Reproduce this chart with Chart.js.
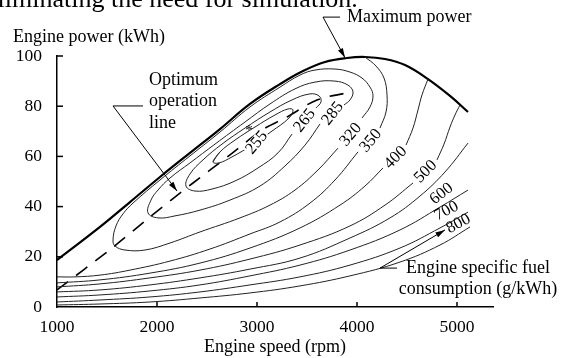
<!DOCTYPE html>
<html>
<head>
<meta charset="utf-8">
<script src="https://cdn.jsdelivr.net/npm/chart.js@4/dist/chart.umd.min.js"></script>
<style>
  html, body { margin: 0; padding: 0; background: #fff; }
  #wrap { width: 565px; height: 358px; position: relative; }
</style>
</head>
<body>
<div id="wrap"><canvas id="engineMap"></canvas></div>
<script>
/* ==========================================
   ENGINE MAP
   Potencia vs régimen con curvas de consumo específico
   ========================================== */

const speedTicks = [1000, 2000, 3000, 4000, 5000];
const powerTicks = [0, 20, 40, 60, 80, 100];

// puntos [rpm, kW]; null = hueco donde va la etiqueta
const maxPower = [
    [1000, 18.7], [1430, 31.9], [1730, 41.8], [2030, 51.8], [2330, 61.4],
    [2630, 70.9], [2930, 80.9], [3230, 88.8], [3460, 94.0], [3680, 97.6],
    [3900, 99.2], [4080, 99.6], [4280, 98.8], [4480, 96.4], [4710, 90.8],
    [4930, 84.1], [5110, 77.7]
];

const optimumLine = [
    [1000, 6.8], [1550, 23.5], [1930, 35.9], [2360, 49.4], [2730, 60.6],
    [3050, 70.5], [3300, 75.7], [3600, 82.5], [3950, 85.7]
];

const sfc255 = [
    [2560, 57.8], [2630, 61.8], [2780, 66.5], [2980, 71.7], [3180, 76.5],
    [3310, 78.9], [3360, 78.5], [3320, 75.3], [3150, 70.1], [2950, 64.5],
    [2750, 59.8], [2620, 57.4], [2560, 57.8], [2630, 61.8]
];

const sfc265 = [
    [3590, 79.3], [3640, 81.7], [3620, 84.1], [3530, 84.9], [3350, 82.5],
    [3130, 77.7], [2880, 71.3], [2650, 64.9], [2460, 58.6], [2330, 53.0],
    [2290, 48.2], [2380, 46.2], [2550, 47.0], [2780, 50.2], [3010, 55.4],
    [3210, 61.4], [3350, 68.9]
];

const sfc285 = [
    [3870, 80.5], [3930, 82.5], [3960, 85.7], [3910, 88.4], [3780, 90.0],
    [3580, 89.6], [3380, 86.9], [3130, 80.9], [2880, 73.7], [2580, 64.9],
    [2330, 57.4], [2130, 51.4], [2010, 46.6], [1940, 42.6], [1910, 37.5],
    [2010, 35.5], [2180, 36.3], [2430, 38.6], [2730, 42.6], [3030, 48.2],
    [3280, 56.2], [3480, 64.5], [3630, 72.9]
];

const sfc320 = [
    [4050, 75.3], [4130, 79.7], [4160, 84.1], [4130, 87.6], [4050, 91.2],
    [3930, 93.6], [3780, 94.8], [3580, 94.4], [3430, 92.4], [3230, 87.6],
    [2930, 79.7], [2630, 69.7], [2330, 60.2], [2030, 50.6], [1760, 41.4],
    [1660, 37.1], [1590, 32.3], [1560, 26.7], [1580, 24.3], [1680, 22.7],
    [1880, 22.7], [2130, 25.5], [2430, 29.9], [2830, 35.5], [3130, 40.6],
    [3380, 46.6], [3610, 54.6], [3810, 63.3]
];

const sfc350 = [
    [1000, 12.0], [1180, 12.0], [1430, 12.7], [1730, 14.7], [2130, 18.3],
    [2530, 23.1], [2930, 29.1], [3230, 33.9], [3530, 41.4], [3780, 50.6],
    [4010, 61.8], null, [4230, 71.3], [4290, 77.7], [4300, 84.5],
    [4270, 91.2], [4190, 96.0], [4080, 99.6]
];

const sfc400 = [
    [1000, 9.6], [1430, 10.8], [1930, 13.5], [2430, 17.5], [2930, 23.5],
    [3430, 31.5], [3830, 40.6], [4080, 48.2], [4260, 55.4], null,
    [4490, 64.5], [4560, 71.3], [4610, 78.5], [4650, 84.5], [4710, 90.8]
];

const sfc500 = [
    [1000, 8.0], [1430, 9.2], [1930, 11.6], [2430, 14.7], [2930, 19.1],
    [3430, 24.7], [3930, 32.3], [4280, 40.6], [4560, 49.4], null,
    [4800, 58.6], [4870, 64.9], [4930, 71.7], [4980, 76.5], [5030, 80.5]
];

const sfcUnlabelled = [
    [1000, 6.0], [1430, 6.8], [1930, 8.8], [2430, 11.6], [2930, 15.1],
    [3430, 19.5], [3930, 27.5], [4330, 35.5], [4630, 44.2], [4880, 53.8],
    [5110, 65.3]
];

const sfc600 = [
    [1000, 4.0], [1430, 4.8], [1930, 6.4], [2430, 8.8], [2930, 12.4],
    [3430, 16.7], [3930, 22.7], [4430, 30.7], [4830, 39.8], [5110, 46.6]
];

const sfc700 = [
    [1000, 2.0], [1430, 2.8], [1930, 4.0], [2430, 6.0], [2930, 8.8],
    [3430, 12.0], [3930, 16.7], [4430, 23.5], [4830, 31.5], [5110, 37.8]
];

const sfc800 = [
    [1000, 0.8], [1430, 1.2], [1930, 2.0], [2430, 3.6], [2930, 5.6],
    [3430, 8.4], [3930, 12.4], [4430, 17.9], [4830, 24.7], [5130, 31.9]
];

const contourLevels = ["255", "265", "285", "320", "350", "400", "500", "600", "700", "800"];

// donde se escribe cada nivel (rpm, kW) y su giro
const labelSpots = {
    "255": { at: [2990, 65.7], rot: -50, clear: true },
    "265": { at: [3470, 74.5], rot: -52 },
    "285": { at: [3750, 77.3], rot: -52 },
    "320": { at: [3930, 68.9], rot: -50 },
    "350": { at: [4130, 66.5], rot: -50 },
    "400": { at: [4380, 59.8], rot: -45 },
    "500": { at: [4680, 54.2], rot: -45 },
    "600": { at: [4840, 45.4], rot: -38 },
    "700": { at: [4890, 38.6], rot: -28 },
    "800": { at: [5010, 33.5], rot: -28 }
};

const notes = [
    { lines: ["Maximum power"], at: [3900, 115.5], align: "left",
      leader: [[3830, 115.5], [3660, 115.5], [3880, 99.3]] },
    { lines: ["Optimum", "operation", "line"], at: [1920, 90.4], align: "left",
      leader: [[1860, 80.1], [1560, 80.1], [2200, 46.2]] },
    { lines: ["Engine specific fuel", "consumption (g/kWh)"], at: [5210, 15.5], align: "center",
      leader: [[4400, 15.5], [4230, 15.5], [4880, 30.7]] }
];

const SERIF = "'Liberation Serif', 'Times New Roman', serif";

function toXY(points) {
    return points.map((p, i) =>
        p ? { x: p[0], y: p[1] } : { x: points[i - 1][0], y: null }
    );
}

function contour(points) {
    return {
        data: toXY(points),
        showLine: true,
        borderColor: "#222",
        borderWidth: 1,
        pointRadius: 0,
        tension: 0.4,
        spanGaps: false,
        clip: false
    };
}

function drawArrow(ctx, pts) {
    ctx.beginPath();
    ctx.moveTo(pts[0][0], pts[0][1]);
    pts.slice(1).forEach(p => ctx.lineTo(p[0], p[1]));
    ctx.stroke();

    const [x1, y1] = pts[pts.length - 2];
    const [x2, y2] = pts[pts.length - 1];
    const a = Math.atan2(y2 - y1, x2 - x1);
    ctx.beginPath();
    ctx.moveTo(x2, y2);
    ctx.lineTo(x2 - 10 * Math.cos(a - 0.28), y2 - 10 * Math.sin(a - 0.28));
    ctx.lineTo(x2 - 10 * Math.cos(a + 0.28), y2 - 10 * Math.sin(a + 0.28));
    ctx.closePath();
    ctx.fill();
}

const mapAnnotations = {
    id: "mapAnnotations",
    afterDatasetsDraw(chart) {
        const { ctx, chartArea, scales: { x, y } } = chart;
        const px = v => x.getPixelForValue(v);
        const py = v => y.getPixelForValue(v);

        ctx.save();

        // marcas de los ejes hacia dentro
        ctx.strokeStyle = "#000";
        ctx.lineWidth = 1.5;
        speedTicks.filter(v => v > x.min).forEach(v => {
            ctx.beginPath();
            ctx.moveTo(px(v), chartArea.bottom);
            ctx.lineTo(px(v), chartArea.bottom - 5);
            ctx.stroke();
        });
        powerTicks.filter(v => v > y.min).forEach(v => {
            ctx.beginPath();
            ctx.moveTo(chartArea.left, py(v));
            ctx.lineTo(chartArea.left + 6, py(v));
            ctx.stroke();
        });

        // niveles de consumo
        ctx.font = "16.5px " + SERIF;
        ctx.textAlign = "center";
        ctx.textBaseline = "middle";
        contourLevels.forEach(level => {
            const s = labelSpots[level];
            ctx.save();
            ctx.translate(px(s.at[0]), py(s.at[1]));
            ctx.rotate(s.rot * Math.PI / 180);
            if (s.clear) {
                const w = ctx.measureText(level).width;
                ctx.fillStyle = "#fff";
                ctx.fillRect(-w / 2 - 1, -6, w + 2, 12);
            }
            ctx.fillStyle = "#000";
            ctx.fillText(level, 0, 1);
            ctx.restore();
        });
        ctx.font = "15px " + SERIF;
        ctx.fillStyle = "#000";
        ctx.fillText("*", px(2920), py(70.0));

        // notas con flecha
        ctx.font = "18px " + SERIF;
        ctx.lineWidth = 1;
        notes.forEach(n => {
            ctx.textAlign = n.align;
            n.lines.forEach((t, i) => {
                ctx.fillText(t, px(n.at[0]), py(n.at[1]) + i * 21.5);
            });
            drawArrow(ctx, n.leader.map(p => [px(p[0]), py(p[1])]));
        });

        // título del eje y, horizontal arriba
        ctx.textAlign = "left";
        ctx.fillText("Engine power (kWh)", chartArea.left - 44, chartArea.top - 19);

        // texto del libro cortado arriba
        ctx.font = "26px " + SERIF;
        ctx.textBaseline = "alphabetic";
        ctx.fillText("eliminating the need for simulation.", chartArea.left - 71, chartArea.top - 49);

        ctx.restore();
    }
};

new Chart(document.getElementById("engineMap"), {
    type: "scatter",
    data: {
        datasets: [
            contour(sfc255),
            contour(sfc265),
            contour(sfc285),
            contour(sfc320),
            contour(sfc350),
            contour(sfc400),
            contour(sfc500),
            contour(sfcUnlabelled),
            contour(sfc600),
            contour(sfc700),
            contour(sfc800),
            {
                data: toXY(optimumLine),
                showLine: true,
                borderColor: "#000",
                borderWidth: 1.6,
                borderDash: [14, 10],
                pointRadius: 0,
                tension: 0.3,
                clip: false
            },
            {
                data: toXY(maxPower),
                showLine: true,
                borderColor: "#000",
                borderWidth: 2.2,
                pointRadius: 0,
                tension: 0.4,
                clip: false
            }
        ]
    },
    options: {
        responsive: true,
        maintainAspectRatio: false,
        animation: false,
        layout: {
            padding: { top: 56, right: 72, bottom: 0, left: 0 }
        },
        plugins: {
            legend: { display: false },
            tooltip: { enabled: false }
        },
        scales: {
            x: {
                type: "linear",
                min: 1000,
                max: 5360,
                afterBuildTicks: scale => {
                    scale.ticks = speedTicks.map(v => ({ value: v }));
                },
                afterFit: scale => { scale.height = 51; },
                ticks: {
                    color: "#000",
                    padding: 2,
                    maxRotation: 0,
                    callback: value => String(value),
                    font: { family: SERIF, size: 17.5 }
                },
                grid: { display: false },
                border: { display: true, color: "#000", width: 1.5 },
                title: {
                    display: true,
                    text: "Engine speed (rpm)",
                    color: "#000",
                    padding: { top: 0, bottom: 0 },
                    font: { family: SERIF, size: 18 }
                }
            },
            y: {
                min: 0,
                max: 100,
                afterBuildTicks: scale => {
                    scale.ticks = powerTicks.map(v => ({ value: v }));
                },
                afterFit: scale => { scale.width = 57; },
                ticks: {
                    color: "#000",
                    padding: 7,
                    callback: value => String(value),
                    font: { family: SERIF, size: 17.5 }
                },
                grid: { display: false },
                border: { display: true, color: "#000", width: 1.5 }
            }
        }
    },
    plugins: [mapAnnotations]
});
</script>
</body>
</html>
